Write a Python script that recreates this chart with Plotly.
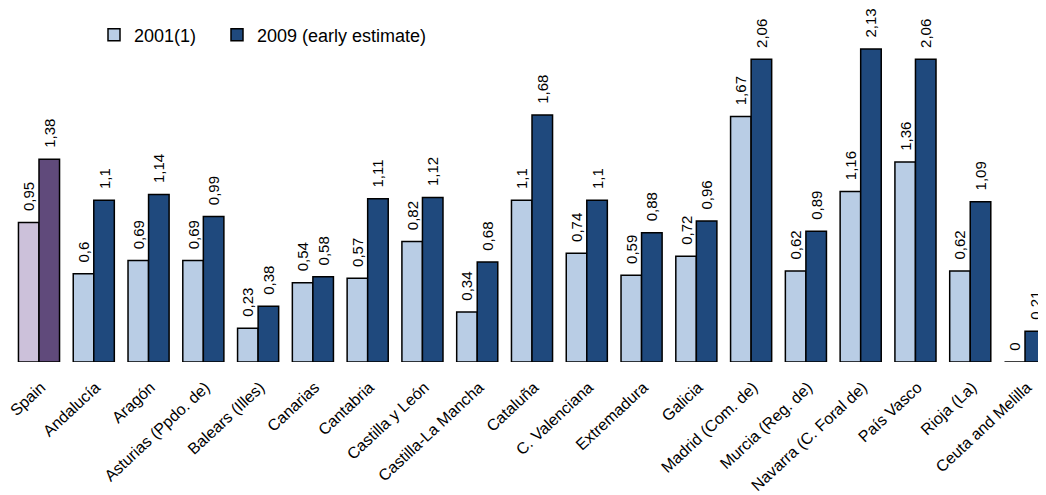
import plotly.graph_objects as go

categories = ["Spain", "Andalucía", "Aragón", "Asturias (Ppdo. de)", "Balears (Illes)",
              "Canarias", "Cantabria", "Castilla y León", "Castilla-La Mancha", "Cataluña",
              "C. Valenciana", "Extremadura", "Galicia", "Madrid (Com. de)", "Murcia (Reg. de)",
              "Navarra (C. Foral de)", "País Vasco", "Rioja (La)", "Ceuta and Melilla"]
v2001 = [0.95, 0.6, 0.69, 0.69, 0.23, 0.54, 0.57, 0.82, 0.34, 1.1, 0.74, 0.59, 0.72,
         1.67, 0.62, 1.16, 1.36, 0.62, 0]
v2009 = [1.38, 1.1, 1.14, 0.99, 0.38, 0.58, 1.11, 1.12, 0.68, 1.68, 1.1, 0.88, 0.96,
         2.06, 0.89, 2.13, 2.06, 1.09, 0.21]
series_names = ["2001(1)", "2009 (early estimate)"]

def fmt(v):
    return format(v, "g").replace(".", ",")

light = "#B9CDE5"
dark = "#1F497D"
light_spain = "#CCC1DA"
dark_spain = "#604A7B"

c1 = [light_spain if c == "Spain" else light for c in categories]
c2 = [dark_spain if c == "Spain" else dark for c in categories]

x = list(range(len(categories)))
FONT = "Liberation Sans, Arial"
pad = "  "

fig = go.Figure()
for vals, cols, name in [(v2001, c1, series_names[0]), (v2009, c2, series_names[1])]:
    fig.add_trace(go.Bar(
        x=x, y=vals, name=name, showlegend=False, offsetgroup=name,
        marker=dict(color=cols, line=dict(color="black", width=1.5)),
        text=[pad + fmt(v) for v in vals], textposition="outside", textangle=-90,
        textfont=dict(size=15, color="black", family=FONT),
        cliponaxis=False, constraintext="none",
    ))
# legend entries (no data drawn)
for col, name, lg in [(light, series_names[0], "legend"), (dark, series_names[1], "legend2")]:
    fig.add_trace(go.Bar(
        x=[None], y=[None], name=name, showlegend=True, legend=lg,
        marker=dict(color=col, line=dict(color="black", width=1.5)),
    ))

W, H = 1046, 495
leg_common = dict(orientation="h", yanchor="middle", xanchor="left", y=0.956,
                  font=dict(size=18, family=FONT), itemwidth=30,
                  bgcolor="rgba(0,0,0,0)")
fig.update_layout(
    width=W, height=H,
    margin=dict(l=0, r=0, t=12, b=141),
    plot_bgcolor="white", paper_bgcolor="white",
    barmode="group", bargap=0.25, bargroupgap=0,
    font=dict(family=FONT, color="black", size=13),
    legend=dict(x=86 / W, **leg_common),
    legend2=dict(x=209 / W, **leg_common),
    xaxis=dict(tickmode="array", tickvals=x, ticktext=categories, tickangle=-43,
               range=[-0.5659, 18.529], showgrid=False, zeroline=False, showline=False,
               ticks="", tickfont=dict(size=16, family=FONT), automargin=False,
               ticklabeloverflow="allow", ticklabelstandoff=12, ticklabelshift=2),
    yaxis=dict(range=[0, 2.327], visible=False, showgrid=False, zeroline=False,
               automargin=False),
)

fig.write_html("out.html")
